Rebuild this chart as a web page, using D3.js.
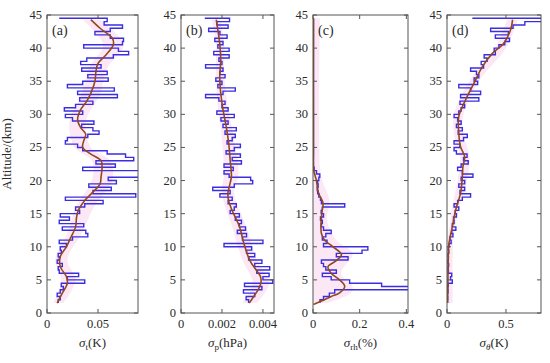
<!DOCTYPE html>
<html>
<head>
<meta charset="utf-8">
<script src="https://cdn.jsdelivr.net/npm/d3@7"></script>
<style>
  body { margin: 0; background: #fff; }
</style>
</head>
<body>
<svg id="chart" width="550" height="363" font-family="'Liberation Serif', 'DejaVu Serif', serif"></svg>
<script>
// altitude grid of the stair profiles (km)
const altitudes = [1.5, 2, 2.5, 3, 3.5, 4, 4.5, 5, 5.5, 6, 6.5, 7, 7.5, 8, 8.5, 9, 9.5, 10,
  10.5, 11, 11.5, 12, 12.5, 13, 13.5, 14, 14.5, 15, 15.5, 16, 16.5, 17, 17.5, 18, 18.5, 19,
  19.5, 20, 20.5, 21, 21.5, 22, 22.5, 23, 23.5, 24, 24.5, 25, 25.5, 26, 26.5, 27, 27.5, 28,
  28.5, 29, 29.5, 30, 30.5, 31, 31.5, 32, 32.5, 33, 33.5, 34, 34.5, 35, 35.5, 36, 36.5, 37,
  37.5, 38, 38.5, 39, 39.5, 40, 40.5, 41, 41.5, 42, 42.5, 43, 43.5, 44, 44.5];

// blue stair profiles
const sigmaT = [0.011, 0.013, 0.010, 0.013, 0.016, 0.014, 0.037, 0.020, 0.031, 0.012, 0.011,
  0.015, 0.010, 0.012, 0.011, 0.014, 0.013, 0.019, 0.012, 0.025, 0.040, 0.038, 0.015, 0.036,
  0.012, 0.022, 0.013, 0.032, 0.028, 0.037, 0.055, 0.018, 0.087, 0.045, 0.063, 0.041, 0.068,
  0.060, 0.095, 0.092, 0.035, 0.067, 0.048, 0.085, 0.077, 0.059, 0.035, 0.030, 0.018, 0.020,
  0.040, 0.051, 0.045, 0.034, 0.046, 0.025, 0.018, 0.035, 0.017, 0.028, 0.045, 0.032, 0.069,
  0.030, 0.066, 0.020, 0.035, 0.060, 0.040, 0.059, 0.034, 0.053, 0.033, 0.039, 0.065, 0.080,
  0.070, 0.036, 0.074, 0.075, 0.062, 0.047, 0.062, 0.074, 0.056, 0.059, 0.012];

const sigmaP = [0.00330, 0.00318, 0.00360, 0.00305, 0.00395, 0.00310, 0.00448, 0.00400,
  0.00430, 0.00370, 0.00433, 0.00360, 0.00395, 0.00330, 0.00360, 0.00320, 0.00345, 0.00210,
  0.00400, 0.00300, 0.00320, 0.00275, 0.00315, 0.00285, 0.00295, 0.00265, 0.00285, 0.00240,
  0.00260, 0.00270, 0.00230, 0.00250, 0.00190, 0.00240, 0.00155, 0.00260, 0.00350, 0.00340,
  0.00235, 0.00210, 0.00255, 0.00210, 0.00295, 0.00250, 0.00290, 0.00220, 0.00260, 0.00290,
  0.00225, 0.00250, 0.00265, 0.00215, 0.00270, 0.00205, 0.00230, 0.00195, 0.00260, 0.00175,
  0.00230, 0.00200, 0.00215, 0.00185, 0.00120, 0.00205, 0.00265, 0.00180, 0.00200, 0.00170,
  0.00215, 0.00190, 0.00205, 0.00120, 0.00200, 0.00185, 0.00235, 0.00160, 0.00235, 0.00180,
  0.00205, 0.00165, 0.00225, 0.00190, 0.00135, 0.00230, 0.00175, 0.00237, 0.00116];

const sigmaRH = [0.030, 0.045, 0.070, 0.093, 0.410, 0.294, 0.157, 0.078, 0.040, 0.100, 0.055,
  0.045, 0.036, 0.150, 0.100, 0.210, 0.235, 0.045, 0.060, 0.040, 0.055, 0.078, 0.045, 0.036,
  0.040, 0.032, 0.045, 0.035, 0.040, 0.136, 0.036, 0.032, 0.025, 0.020, 0.018, 0.022, 0.020,
  0.025, 0.029, 0.015, 0.005, 0.002, 0.002, 0.002, 0.002, 0.002, 0.002, 0.002, 0.002, 0.002,
  0.002, 0.002, 0.002, 0.002, 0.002, 0.002, 0.002, 0.002, 0.002, 0.002, 0.002, 0.002, 0.002,
  0.002, 0.002, 0.002, 0.002, 0.002, 0.002, 0.002, 0.002, 0.002, 0.002, 0.002, 0.002, 0.002,
  0.002, 0.002, 0.002, 0.002, 0.002, 0.002, 0.002, 0.002, 0.002, 0.002, 0.002];

const sigmaTheta = [0.005, 0.006, 0.004, 0.008, 0.006, 0.010, 0.045, 0.030, 0.040, 0.012,
  0.010, 0.014, 0.008, 0.012, 0.009, 0.015, 0.011, 0.018, 0.035, 0.025, 0.050, 0.040, 0.075,
  0.045, 0.060, 0.055, 0.080, 0.070, 0.100, 0.060, 0.090, 0.130, 0.200, 0.110, 0.150, 0.100,
  0.150, 0.120, 0.220, 0.130, 0.090, 0.120, 0.180, 0.140, 0.170, 0.080, 0.060, 0.110, 0.060,
  0.140, 0.172, 0.095, 0.130, 0.080, 0.120, 0.090, 0.060, 0.100, 0.120, 0.150, 0.110, 0.270,
  0.115, 0.285, 0.200, 0.100, 0.260, 0.230, 0.270, 0.250, 0.200, 0.310, 0.290, 0.340, 0.315,
  0.410, 0.400, 0.440, 0.490, 0.530, 0.410, 0.520, 0.370, 0.560, 0.660, 0.805, 0.215];

// red smoothed curves [altitude, value]
const smoothT = [[1.5, 0.010], [3, 0.015], [4.5, 0.020], [5.5, 0.019], [7, 0.013], [8.5, 0.013],
  [10, 0.019], [11.3, 0.023], [13, 0.028], [14.5, 0.029], [15.6, 0.031], [17, 0.037],
  [18.1, 0.044], [19.5, 0.052], [20.6, 0.053], [22, 0.054], [23, 0.053], [24, 0.043],
  [25, 0.035], [26, 0.036], [27, 0.038], [28, 0.033], [29.2, 0.030], [30.7, 0.033],
  [32, 0.039], [33.2, 0.043], [35, 0.047], [36.5, 0.048], [37.7, 0.050], [39, 0.058],
  [40.5, 0.065], [41.5, 0.064], [43, 0.052], [44.3, 0.043]];
const smoothP = [[1.5, 0.00333], [2.5, 0.00355], [3.5, 0.00376], [4.5, 0.00390], [5.5, 0.00388],
  [6.5, 0.00367], [8, 0.00335], [10.5, 0.00307], [13, 0.00286], [15.6, 0.00248], [17, 0.00232],
  [18.1, 0.00229], [19.1, 0.00236], [20.6, 0.00246], [23.1, 0.00240], [25.6, 0.00233],
  [28.1, 0.00221], [30.7, 0.00205], [33.2, 0.00194], [35.7, 0.00189], [38.2, 0.00194],
  [40.7, 0.00189], [44.3, 0.00172]];
const smoothRH = [[1.3, 0.002], [1.8, 0.036], [2.5, 0.078], [3, 0.112], [4, 0.136], [5, 0.114],
  [6, 0.078], [7, 0.064], [7.8, 0.095], [8.8, 0.122], [10, 0.086], [11, 0.050], [12, 0.036],
  [14, 0.035], [15.6, 0.040], [16.6, 0.043], [18.1, 0.024], [20.1, 0.014], [21.6, 0.003],
  [25, 0.002], [44.5, 0.002]];
const smoothTheta = [[1.5, 0.004], [5, 0.008], [8, 0.010], [10.5, 0.017], [13, 0.045],
  [15.6, 0.074], [18.1, 0.115], [20.6, 0.130], [22.1, 0.135], [23.6, 0.150], [25.1, 0.115],
  [27.1, 0.100], [29.7, 0.100], [32.2, 0.158], [34.7, 0.229], [37.2, 0.300], [39.2, 0.385],
  [40.7, 0.480], [42.8, 0.540], [44.3, 0.556]];

// pink spread bands [altitude, low, high]
const bandT = [[1.5, 0.006, 0.016], [5, 0.014, 0.028], [8, 0.008, 0.020], [12, 0.020, 0.034],
  [16, 0.028, 0.046], [20, 0.044, 0.064], [23, 0.044, 0.062], [25, 0.027, 0.043],
  [29, 0.022, 0.038], [33, 0.034, 0.052], [37, 0.041, 0.059], [40.5, 0.055, 0.075],
  [44.3, 0.035, 0.052]];
const bandP = [[1.5, 0.0030, 0.0037], [4.5, 0.0035, 0.0043], [8, 0.0030, 0.0037],
  [13, 0.0025, 0.0032], [18, 0.0020, 0.0026], [21, 0.0021, 0.0028], [26, 0.0020, 0.0026],
  [31, 0.0018, 0.0023], [36, 0.0017, 0.0021], [41, 0.0017, 0.0021], [44.3, 0.0015, 0.0019]];
const bandRH = [[1.5, 0, 0.06], [3, 0, 0.16], [4, 0, 0.17], [6, 0, 0.12], [9, 0, 0.17],
  [11, 0, 0.10], [14, 0, 0.06], [17, 0, 0.07], [20, 0, 0.04], [22, 0, 0.03], [44.5, 0, 0.03]];
const bandTheta = [[1.5, 0, 0.05], [10, 0, 0.05], [13, 0.02, 0.07], [15.6, 0.04, 0.10],
  [20, 0.09, 0.17], [23.6, 0.11, 0.19], [27, 0.06, 0.14], [30, 0.06, 0.14], [35, 0.19, 0.27],
  [40, 0.41, 0.50], [44.3, 0.51, 0.60]];

const altTicks = [0, 5, 10, 15, 20, 25, 30, 35, 40, 45];
const xTicksT = [0, 0.05];
const xTicksP = [0, 0.002, 0.004];
const xTicksRH = [0, 0.2, 0.4];
const xTicksTheta = [0, 0.5];

const panels = [
  { tag: "(a)", left: 47, right: 138, max: 0.0892, blue: sigmaT, red: smoothT, band: bandT,
    ticks: xTicksT, fmt: d => d === 0 ? "0" : String(d), sub: "t", unit: "(K)" },
  { tag: "(b)", left: 181, right: 274, max: 0.00454, blue: sigmaP, red: smoothP, band: bandP,
    ticks: xTicksP, fmt: d => d === 0 ? "0" : d.toFixed(3), sub: "p", unit: "(hPa)" },
  { tag: "(c)", left: 313, right: 408, max: 0.407, blue: sigmaRH, red: smoothRH, band: bandRH,
    ticks: xTicksRH, fmt: d => d === 0 ? "0" : String(d), sub: "rh", unit: "(%)" },
  { tag: "(d)", left: 447, right: 541, max: 0.797, blue: sigmaTheta, red: smoothTheta, band: bandTheta,
    ticks: xTicksTheta, fmt: d => d === 0 ? "0" : String(d), sub: "θ", unit: "(K)", italicSub: true }
];

const plotTop = 15, plotBottom = 313;
const textColor = "#2a2a2a";
const svg = d3.select("#chart");
const y = d3.scaleLinear().domain([0, 45]).range([plotBottom, plotTop]);

svg.append("text")
  .attr("transform", `translate(11,${(plotTop + plotBottom) / 2 - 10}) rotate(-90)`)
  .attr("text-anchor", "middle")
  .attr("font-size", 13)
  .attr("fill", textColor)
  .text("Altitude/(km)");

panels.forEach((p, k) => {
  const x = d3.scaleLinear().domain([0, p.max]).range([p.left, p.right]);
  const g = svg.append("g").attr("class", `panel panel-${k}`).attr("fill", textColor);

  g.append("clipPath").attr("id", `clip${k}`)
    .append("rect")
    .attr("x", p.left).attr("y", plotTop)
    .attr("width", p.right - p.left).attr("height", plotBottom - plotTop);

  const plot = g.append("g").attr("clip-path", `url(#clip${k})`);

  plot.append("path")
    .datum(p.band)
    .attr("fill", "#fce8f4")
    .attr("d", d3.area()
      .y(d => y(d[0]))
      .x0(d => x(d[1]))
      .x1(d => x(d[2]))
      .curve(d3.curveCatmullRom));

  // stairs: hold each value up to the next altitude level
  let stairs = [];
  p.blue.forEach((v, i) => {
    stairs.push([v, altitudes[i]]);
    if (i < p.blue.length - 1) stairs.push([v, altitudes[i + 1]]);
  });
  plot.append("path")
    .datum(stairs)
    .attr("fill", "none")
    .attr("stroke", "#3b2ee0")
    .attr("stroke-width", 1.4)
    .attr("d", d3.line().x(d => x(d[0])).y(d => y(d[1])));

  plot.append("path")
    .datum(p.red)
    .attr("fill", "none")
    .attr("stroke", "#94471f")
    .attr("stroke-width", 1.6)
    .attr("d", d3.line().x(d => x(d[1])).y(d => y(d[0])).curve(d3.curveCatmullRom));

  // box and inward ticks
  const axisColor = "#555";
  g.append("rect")
    .attr("x", p.left).attr("y", plotTop)
    .attr("width", p.right - p.left).attr("height", plotBottom - plotTop)
    .attr("fill", "none").attr("stroke", axisColor).attr("stroke-width", 1);

  altTicks.forEach(t => {
    g.append("line").attr("x1", p.left).attr("x2", p.left + 4)
      .attr("y1", y(t)).attr("y2", y(t)).attr("stroke", axisColor);
    g.append("line").attr("x1", p.right).attr("x2", p.right - 4)
      .attr("y1", y(t)).attr("y2", y(t)).attr("stroke", axisColor);
    g.append("text")
      .attr("x", p.left - 5).attr("y", y(t) + 4)
      .attr("text-anchor", "end").attr("font-size", 12.5)
      .text(t);
  });

  p.ticks.forEach(t => {
    g.append("line").attr("x1", x(t)).attr("x2", x(t))
      .attr("y1", plotBottom).attr("y2", plotBottom - 4).attr("stroke", axisColor);
    g.append("line").attr("x1", x(t)).attr("x2", x(t))
      .attr("y1", plotTop).attr("y2", plotTop + 4).attr("stroke", axisColor);
    g.append("text")
      .attr("x", x(t)).attr("y", 328)
      .attr("text-anchor", "middle").attr("font-size", 12.5)
      .text(p.fmt(t));
  });

  g.append("text")
    .attr("x", p.left + 5).attr("y", plotTop + 20)
    .attr("font-size", 14)
    .text(p.tag);

  const label = g.append("text")
    .attr("x", (p.left + p.right) / 2).attr("y", 347)
    .attr("text-anchor", "middle").attr("font-size", 13);
  label.append("tspan").attr("font-style", "italic").text("σ");
  label.append("tspan").attr("font-size", 9).attr("dy", 3)
    .attr("font-style", p.italicSub ? "italic" : "normal").text(p.sub);
  label.append("tspan").attr("dy", -3).text(p.unit);
});
</script>
</body>
</html>
